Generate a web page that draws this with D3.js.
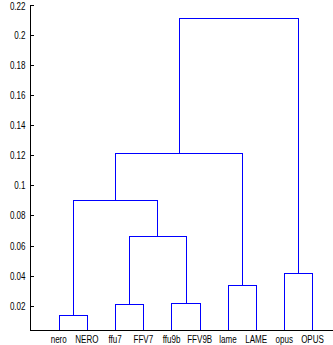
<!DOCTYPE html>
<html>
<head>
<meta charset="utf-8">
<script src="https://cdn.jsdelivr.net/npm/d3@7"></script>
<style>
  html, body { margin: 0; padding: 0; background: #fff; }
  svg { display: block; }
  text { font-family: "Liberation Sans", Arial, sans-serif; fill: #000; }
</style>
</head>
<body>
<svg id="chart" width="333" height="345"></svg>
<script>
// Leaf labels, in display order (leaf ids 1..10)
const leaves = ["nero", "NERO", "ffu7", "FFV7", "ffu9b", "FFV9B", "lame", "LAME", "opus", "OPUS"];

// Linkage: each row joins two nodes into a new node (ids 11, 12, ...)
const mergeLeft   = [1, 3, 5, 7, 9, 12, 11, 17, 18];
const mergeRight  = [2, 4, 6, 8, 10, 13, 16, 14, 15];
const mergeHeight = [0.0139, 0.0213, 0.0218, 0.0337, 0.0417, 0.0663, 0.0902, 0.1215, 0.2113];

// Y axis ticks
const yTicks = [0.02, 0.04, 0.06, 0.08, 0.1, 0.12, 0.14, 0.16, 0.18, 0.2, 0.22];

(function () {
  const svg = d3.select("#chart");
  const mLeft = 30.5, mRight = 340.7, mTop = 4.5, mBottom = 330.5;
  const squeeze = 0.73;  // horizontal compression for a narrow label face
  const fontSize = 11;

  const x = d3.scaleLinear().domain([0, leaves.length + 1]).range([mLeft, mRight]);
  const y = d3.scaleLinear().domain([0.00365, 0.22]).range([mBottom, mTop]);

  // node positions: leaves at integer x, height 0
  const nodeX = {}, nodeH = {};
  leaves.forEach((name, i) => { nodeX[i + 1] = i + 1; nodeH[i + 1] = 0; });
  mergeLeft.forEach((l, k) => {
    const id = leaves.length + 1 + k;
    const r = mergeRight[k];
    nodeX[id] = (nodeX[l] + nodeX[r]) / 2;
    nodeH[id] = mergeHeight[k];
  });

  svg.append("defs").append("clipPath").attr("id", "plotClip")
    .append("rect").attr("x", mLeft).attr("y", 0).attr("width", 333 - mLeft).attr("height", mBottom);

  // U-shaped links
  const links = mergeLeft.map((l, k) => ({ l, r: mergeRight[k], h: mergeHeight[k] }));
  const px = v => Math.round(x(v)) + 0.5;
  const py = v => Math.round(y(v)) + 0.5;

  svg.append("g").attr("clip-path", "url(#plotClip)")
    .selectAll("path").data(links).join("path")
    .attr("fill", "none")
    .attr("stroke", "#0000ff")
    .attr("stroke-width", 1)
    .attr("shape-rendering", "crispEdges")
    .attr("d", d => {
      const yl = nodeH[d.l] === 0 ? mBottom + 10 : py(nodeH[d.l]);
      const yr = nodeH[d.r] === 0 ? mBottom + 10 : py(nodeH[d.r]);
      const yh = py(d.h);
      return `M${px(nodeX[d.l])},${yl}V${yh}H${px(nodeX[d.r])}V${yr}`;
    });

  // Y axis with inward ticks
  const yAxis = d3.axisLeft(y).tickValues(yTicks).tickSize(-3).tickPadding(5 / squeeze)
    .tickFormat(d3.format("~g"));
  const gy = svg.append("g").attr("transform", `translate(${mLeft},0)`).call(yAxis);
  gy.select(".domain").remove();
  gy.selectAll(".tick line").attr("stroke", "#000").attr("shape-rendering", "crispEdges");
  // keep the topmost label inside the page edge
  gy.selectAll(".tick text")
    .attr("font-size", fontSize)
    .attr("font-family", "'Liberation Sans', Arial, sans-serif")
    .attr("dy", d => Math.max(0.32 * fontSize, 9.8 - y(d)))
    .attr("transform", `scale(${squeeze},1)`);

  // Axis lines (left and bottom)
  svg.append("path")
    .attr("d", `M${mLeft},${mTop}V${mBottom}H${333}`)
    .attr("fill", "none").attr("stroke", "#000").attr("stroke-width", 1)
    .attr("shape-rendering", "crispEdges");

  // Leaf labels
  svg.append("g").selectAll("text").data(leaves).join("text")
    .attr("transform", (d, i) => `translate(${x(i + 1)},343) scale(${squeeze},1)`)
    .attr("text-anchor", "middle")
    .attr("font-size", fontSize)
    .text(d => d);
})();
</script>
</body>
</html>
